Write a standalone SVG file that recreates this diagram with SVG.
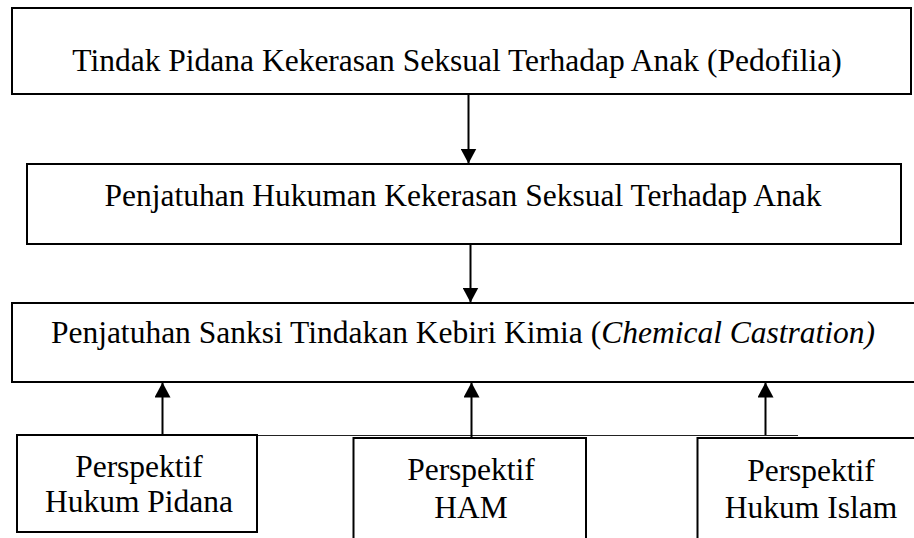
<svg xmlns="http://www.w3.org/2000/svg" width="914" height="538" viewBox="0 0 914 538">
  <defs>
    <style>
      .box { fill: #ffffff; stroke: #000000; stroke-width: 2; }
      .lbl { font-family: 'Liberation Serif', 'DejaVu Serif', serif; font-size: 31.5px; fill: #000000; text-anchor: middle; }
      .it { font-style: italic; }
      .edge { stroke: #000000; stroke-width: 2; fill: none; }
      .thin { stroke: #222222; stroke-width: 1; fill: none; }
    </style>
    <marker id="arr" viewBox="0 0 15 16" refX="15" refY="8" markerWidth="15" markerHeight="16" markerUnits="userSpaceOnUse" orient="auto">
      <path d="M0,0 L15,8 L0,16 Z" fill="#000000"/>
    </marker>
  </defs>
  <rect x="0" y="0" width="914" height="538" fill="#ffffff"/>

  <g id="connectors">
    <line class="thin" x1="257" y1="435.5" x2="798" y2="435.5"/>
    <line class="edge" x1="468.5" y1="95" x2="468.5" y2="163.5" marker-end="url(#arr)"/>
    <line class="edge" x1="470.5" y1="244" x2="470.5" y2="302.5" marker-end="url(#arr)"/>
    <line class="edge" x1="162.5" y1="434" x2="162.5" y2="382.5" marker-end="url(#arr)"/>
    <line class="edge" x1="471.5" y1="437" x2="471.5" y2="382.5" marker-end="url(#arr)"/>
    <line class="edge" x1="765.5" y1="435" x2="765.5" y2="382.5" marker-end="url(#arr)"/>
  </g>

  <g id="node-tindak-pidana">
    <rect class="box" x="12" y="8" width="899" height="86"/>
    <text class="lbl" font-family="Liberation Serif, serif" x="457" y="71">Tindak Pidana Kekerasan Seksual Terhadap Anak (Pedofilia)</text>
  </g>

  <g id="node-penjatuhan-hukuman">
    <rect class="box" x="27" y="164" width="874" height="80"/>
    <text class="lbl" font-family="Liberation Serif, serif" x="463" y="206">Penjatuhan Hukuman Kekerasan Seksual Terhadap Anak</text>
  </g>

  <g id="node-kebiri-kimia">
    <rect class="box" x="12" y="303" width="912" height="79"/>
    <text class="lbl" font-family="Liberation Serif, serif" x="463" y="343">Penjatuhan Sanksi Tindakan Kebiri Kimia (<tspan class="it">Chemical Castration)</tspan></text>
  </g>

  <g id="node-hukum-pidana">
    <rect class="box" x="17" y="435" width="240" height="97"/>
    <text class="lbl" font-family="Liberation Serif, serif" x="139" y="477">Perspektif</text>
    <text class="lbl" font-family="Liberation Serif, serif" x="139" y="512">Hukum Pidana</text>
  </g>

  <g id="node-ham">
    <rect class="box" x="353.5" y="438" width="232.5" height="120"/>
    <text class="lbl" font-family="Liberation Serif, serif" x="471" y="480">Perspektif</text>
    <text class="lbl" font-family="Liberation Serif, serif" x="471" y="518">HAM</text>
  </g>

  <g id="node-hukum-islam">
    <rect class="box" x="697.5" y="438" width="240" height="120"/>
    <text class="lbl" font-family="Liberation Serif, serif" x="811" y="481">Perspektif</text>
    <text class="lbl" font-family="Liberation Serif, serif" x="811" y="518">Hukum Islam</text>
  </g>
</svg>
